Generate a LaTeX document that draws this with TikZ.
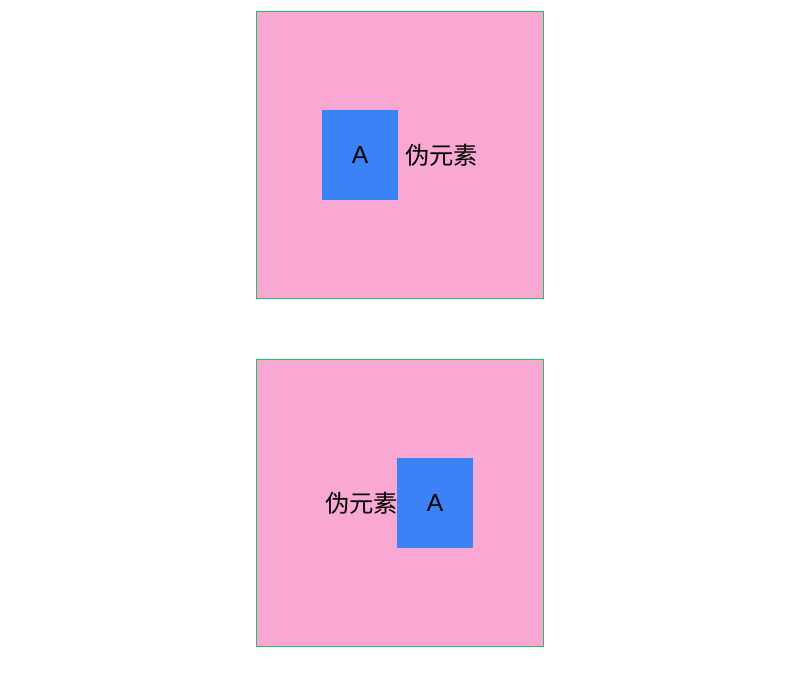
\documentclass[tikz,border=0pt]{standalone}
\usepackage{fontspec}
\setmainfont{Liberation Sans}
\newfontfamily\cjk{Noto Sans CJK SC}
\usetikzlibrary{positioning}
\definecolor{pinkfill}{HTML}{F9A8D4}
\definecolor{bluefill}{HTML}{3B82F6}
\definecolor{greenline}{HTML}{22C55E}

\begin{document}
\begin{tikzpicture}[x=0.75pt,y=-0.75pt,
  outerbox/.style={draw=greenline, fill=pinkfill, line width=0.75pt,
    minimum size=215.5pt, inner sep=0pt},
  itembox/.style={fill=bluefill, minimum width=57pt, minimum height=67.5pt,
    inner sep=0pt, font=\fontsize{18.5pt}{18.5pt}\selectfont},
  pseudo/.style={inner sep=0pt, font=\cjk\fontsize{18.2pt}{18.2pt}\selectfont}]
  \useasboundingbox (0,0) rectangle (794,684);

  % upper case: pseudo element after the box
  \node[outerbox] (upper) at (400,155) {};
  \node[itembox] (itemA) at (360,155) {A};
  \node[pseudo, right=5pt of itemA] (afterA) {伪元素};

  % lower case: pseudo element before the box
  \node[outerbox] (lower) at (400,503) {};
  \node[itembox] (itemB) at (435,503) {A};
  \node[pseudo, left=-1.2pt of itemB] (beforeB) {伪元素};
\end{tikzpicture}
\end{document}
